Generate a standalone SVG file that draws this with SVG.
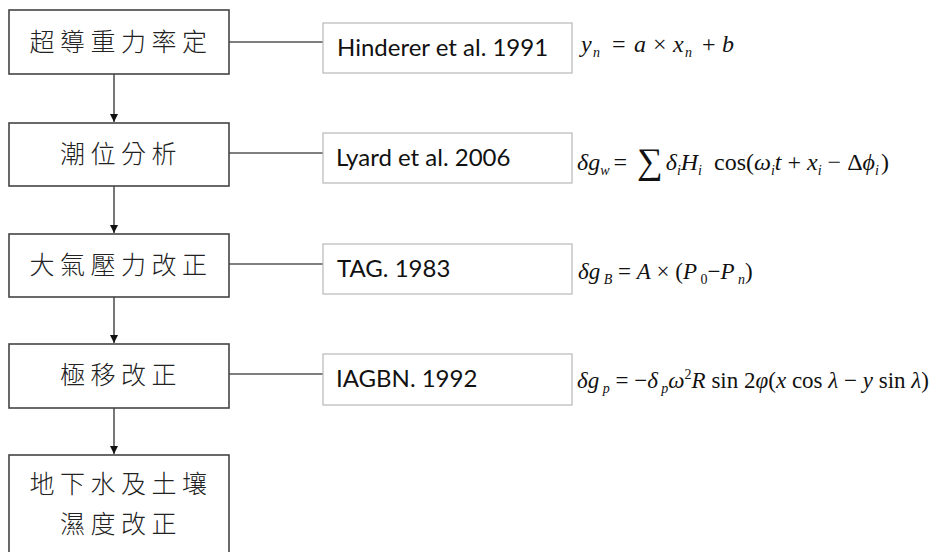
<svg xmlns="http://www.w3.org/2000/svg" width="934" height="552" viewBox="0 0 934 552">
<defs>
<marker id="ah" markerWidth="10" markerHeight="10" refX="8" refY="4.5" orient="auto" markerUnits="userSpaceOnUse">
<path d="M0,0.5 L8,4.5 L0,8.5 Z" fill="#111"/>
</marker>
<style>
.box{fill:#fff;stroke:#444;stroke-width:1.6}
.ref{fill:#fff;stroke:#b8b8b8;stroke-width:1.2}
.cjk{font-family:"Noto Sans CJK TC","Noto Sans CJK SC",sans-serif;font-size:25px;font-weight:300;fill:#222;letter-spacing:5.5px;text-anchor:middle}
.rt{font-family:Lato,"Liberation Sans",sans-serif;font-size:24px;fill:#111}
.f{font-family:"Liberation Serif","Times New Roman",serif;font-size:24px;fill:#111}
.f4{font-size:23px}
.i{font-style:italic}
.s{font-size:14px;font-style:italic}
.c{stroke:#555;stroke-width:1.6;fill:none}
</style>
</defs>
<g id="connectors">
<line class="c" x1="229" y1="42" x2="323" y2="42"/>
<line class="c" x1="229" y1="153" x2="323" y2="153"/>
<line class="c" x1="229" y1="264" x2="323" y2="264"/>
<line class="c" x1="229" y1="374" x2="323" y2="374"/>
<line class="c" x1="114" y1="74" x2="114" y2="122" marker-end="url(#ah)"/>
<line class="c" x1="114" y1="186" x2="114" y2="233" marker-end="url(#ah)"/>
<line class="c" x1="114" y1="297" x2="114" y2="343" marker-end="url(#ah)"/>
<line class="c" x1="114" y1="408" x2="114" y2="454" marker-end="url(#ah)"/>
</g>
<g id="n1"><rect class="box" x="9" y="10" width="220" height="64"/><text class="cjk" x="121" y="51">超導重力率定</text></g>
<g id="n2"><rect class="box" x="9" y="123" width="220" height="63"/><text class="cjk" x="121" y="163">潮位分析</text></g>
<g id="n3"><rect class="box" x="9" y="234" width="220" height="63"/><text class="cjk" x="121" y="274">大氣壓力改正</text></g>
<g id="n4"><rect class="box" x="9" y="344" width="220" height="64"/><text class="cjk" x="121" y="384">極移改正</text></g>
<g id="n5"><rect class="box" x="9" y="455" width="220" height="110"/><text class="cjk" x="121" y="493">地下水及土壤</text><text class="cjk" x="121" y="533">濕度改正</text></g>
<g id="r1"><rect class="ref" x="323" y="23" width="249" height="50"/><text class="rt" x="337" y="56">Hinderer et al. 1991</text></g>
<g id="r2"><rect class="ref" x="323" y="133" width="249" height="50"/><text class="rt" x="336" y="166">Lyard et al. 2006</text></g>
<g id="r3"><rect class="ref" x="323" y="244" width="249" height="50"/><text class="rt" x="337" y="277">TAG. 1983</text></g>
<g id="r4"><rect class="ref" x="323" y="354" width="249" height="51"/><text class="rt" x="336" y="387">IAGBN. 1992</text></g>
<g id="formulas">
<text class="f" y="52"><tspan class="i" x="581">y</tspan><tspan class="s" x="593" dy="5">n</tspan><tspan x="612" dy="-5">=</tspan><tspan class="i" x="634">a</tspan><tspan x="653">×</tspan><tspan class="i" x="673">x</tspan><tspan class="s" x="685" dy="5">n</tspan><tspan x="702" dy="-5">+</tspan><tspan class="i" x="722">b</tspan></text>
<text class="f" x="577" y="170" font-size="25"><tspan class="i">δg</tspan><tspan class="s" dy="5">w</tspan><tspan dy="-5" dx="4">=</tspan><tspan font-size="36" dx="10" dy="3">∑</tspan><tspan class="i" dy="-3" dx="3">δ</tspan><tspan class="s" dy="5">i</tspan><tspan class="i" dy="-5">H</tspan><tspan class="s" dy="5">i</tspan><tspan dy="-5" dx="12">cos(</tspan><tspan class="i">ω</tspan><tspan class="s" dy="5">i</tspan><tspan class="i" dy="-5">t</tspan><tspan dx="6">+</tspan><tspan class="i" dx="6">x</tspan><tspan class="s" dy="5">i</tspan><tspan dx="6" dy="-5">−</tspan><tspan dx="6">Δ</tspan><tspan class="i">ϕ</tspan><tspan class="s" dy="5">i</tspan><tspan dy="-5" dx="2">)</tspan></text>
<text class="f f4" x="578" y="279"><tspan class="i">δg</tspan><tspan class="s" dy="5"> B</tspan><tspan dy="-5"> = </tspan><tspan class="i">A</tspan><tspan> × (</tspan><tspan class="i">P</tspan><tspan font-size="14" dy="5"> 0</tspan><tspan dy="-5">−</tspan><tspan class="i">P</tspan><tspan class="s" dy="5"> n</tspan><tspan dy="-5">)</tspan></text>
<text class="f f4" x="577" y="388"><tspan class="i">δg</tspan><tspan class="s" dy="5"> p</tspan><tspan dy="-5"> = −</tspan><tspan class="i">δ</tspan><tspan class="s" dy="5"> p</tspan><tspan class="i" dy="-5">ω</tspan><tspan font-size="14" dy="-9">2</tspan><tspan class="i" dy="9">R</tspan><tspan> sin 2</tspan><tspan class="i">φ</tspan><tspan>(</tspan><tspan class="i">x</tspan><tspan> cos </tspan><tspan class="i">λ</tspan><tspan> − </tspan><tspan class="i">y</tspan><tspan> sin </tspan><tspan class="i">λ</tspan><tspan>)</tspan></text>
</g>
</svg>
